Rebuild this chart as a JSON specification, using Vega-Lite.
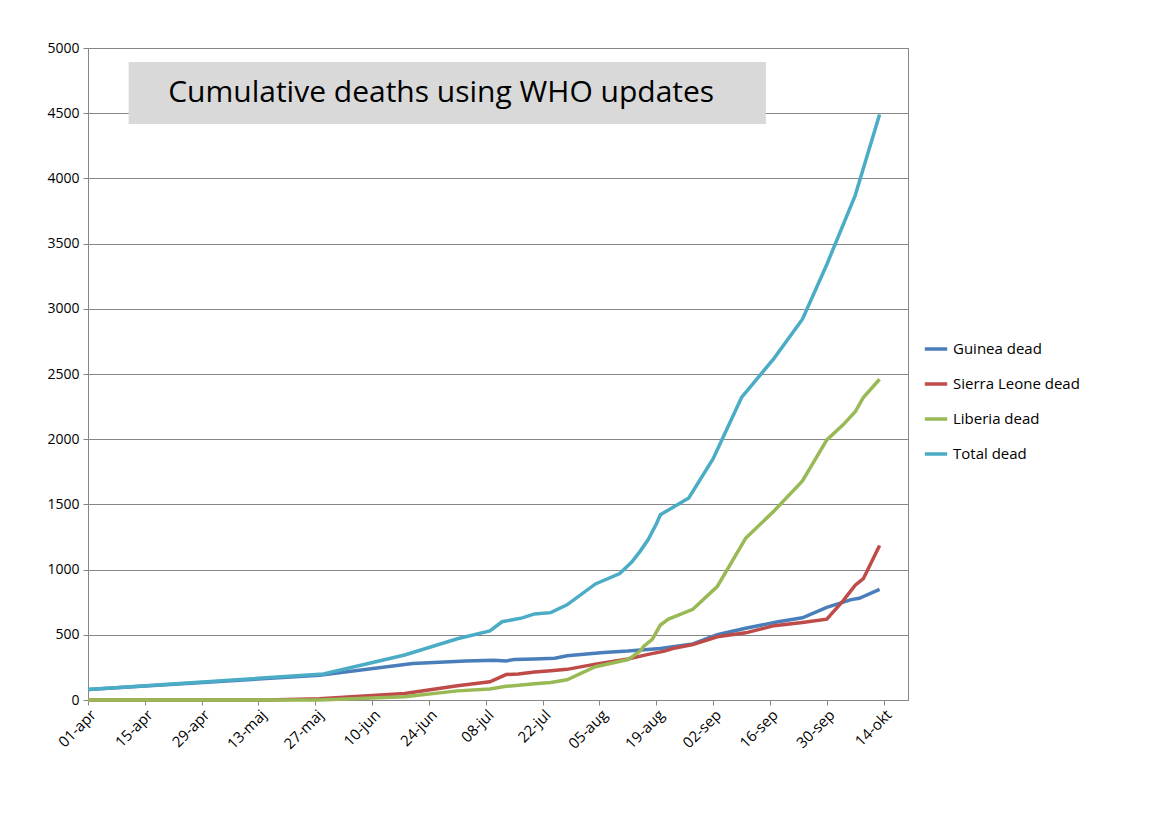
{
  "$schema": "https://vega.github.io/schema/vega-lite/v6.json",
  "width": 820,
  "height": 652,
  "autosize": "none",
  "padding": {"left": 88, "top": 48, "right": 256, "bottom": 121},
  "background": "white",
  "config": {
    "view": {"stroke": "#868686"},
    "font": "Open Sans",
    "axis": {"labelFont": "Open Sans", "labelFontSize": 14, "labelColor": "black", "domainColor": "#868686", "tickColor": "#868686", "labelOverlap": false}
  },
  "datasets": {
    "deaths": [
      {"date": "2014-04-01", "country": "Guinea dead", "deaths": 80},
      {"date": "2014-05-28", "country": "Guinea dead", "deaths": 190},
      {"date": "2014-06-20", "country": "Guinea dead", "deaths": 280},
      {"date": "2014-07-03", "country": "Guinea dead", "deaths": 300},
      {"date": "2014-07-10", "country": "Guinea dead", "deaths": 305},
      {"date": "2014-07-13", "country": "Guinea dead", "deaths": 300},
      {"date": "2014-07-15", "country": "Guinea dead", "deaths": 310},
      {"date": "2014-07-20", "country": "Guinea dead", "deaths": 315},
      {"date": "2014-07-25", "country": "Guinea dead", "deaths": 320},
      {"date": "2014-07-28", "country": "Guinea dead", "deaths": 340},
      {"date": "2014-08-06", "country": "Guinea dead", "deaths": 365},
      {"date": "2014-08-12", "country": "Guinea dead", "deaths": 375},
      {"date": "2014-08-20", "country": "Guinea dead", "deaths": 395},
      {"date": "2014-08-28", "country": "Guinea dead", "deaths": 430},
      {"date": "2014-09-03", "country": "Guinea dead", "deaths": 500},
      {"date": "2014-09-10", "country": "Guinea dead", "deaths": 550},
      {"date": "2014-09-18", "country": "Guinea dead", "deaths": 600},
      {"date": "2014-09-24", "country": "Guinea dead", "deaths": 630},
      {"date": "2014-09-30", "country": "Guinea dead", "deaths": 710},
      {"date": "2014-10-06", "country": "Guinea dead", "deaths": 770},
      {"date": "2014-10-08", "country": "Guinea dead", "deaths": 780},
      {"date": "2014-10-13", "country": "Guinea dead", "deaths": 848},
      {"date": "2014-04-01", "country": "Sierra Leone dead", "deaths": 0},
      {"date": "2014-05-15", "country": "Sierra Leone dead", "deaths": 0},
      {"date": "2014-05-28", "country": "Sierra Leone dead", "deaths": 10},
      {"date": "2014-06-18", "country": "Sierra Leone dead", "deaths": 50},
      {"date": "2014-07-01", "country": "Sierra Leone dead", "deaths": 110},
      {"date": "2014-07-09", "country": "Sierra Leone dead", "deaths": 140},
      {"date": "2014-07-13", "country": "Sierra Leone dead", "deaths": 195},
      {"date": "2014-07-16", "country": "Sierra Leone dead", "deaths": 200},
      {"date": "2014-07-20", "country": "Sierra Leone dead", "deaths": 215},
      {"date": "2014-07-24", "country": "Sierra Leone dead", "deaths": 225},
      {"date": "2014-07-28", "country": "Sierra Leone dead", "deaths": 235},
      {"date": "2014-08-04", "country": "Sierra Leone dead", "deaths": 275},
      {"date": "2014-08-12", "country": "Sierra Leone dead", "deaths": 315},
      {"date": "2014-08-17", "country": "Sierra Leone dead", "deaths": 350},
      {"date": "2014-08-21", "country": "Sierra Leone dead", "deaths": 375},
      {"date": "2014-08-23", "country": "Sierra Leone dead", "deaths": 395},
      {"date": "2014-08-28", "country": "Sierra Leone dead", "deaths": 425},
      {"date": "2014-09-03", "country": "Sierra Leone dead", "deaths": 485},
      {"date": "2014-09-10", "country": "Sierra Leone dead", "deaths": 515},
      {"date": "2014-09-17", "country": "Sierra Leone dead", "deaths": 570},
      {"date": "2014-09-24", "country": "Sierra Leone dead", "deaths": 595},
      {"date": "2014-09-30", "country": "Sierra Leone dead", "deaths": 620},
      {"date": "2014-10-04", "country": "Sierra Leone dead", "deaths": 760},
      {"date": "2014-10-07", "country": "Sierra Leone dead", "deaths": 880},
      {"date": "2014-10-09", "country": "Sierra Leone dead", "deaths": 930},
      {"date": "2014-10-13", "country": "Sierra Leone dead", "deaths": 1185},
      {"date": "2014-04-01", "country": "Liberia dead", "deaths": 0},
      {"date": "2014-05-28", "country": "Liberia dead", "deaths": 0},
      {"date": "2014-06-18", "country": "Liberia dead", "deaths": 25},
      {"date": "2014-07-01", "country": "Liberia dead", "deaths": 70},
      {"date": "2014-07-09", "country": "Liberia dead", "deaths": 85},
      {"date": "2014-07-13", "country": "Liberia dead", "deaths": 105},
      {"date": "2014-07-20", "country": "Liberia dead", "deaths": 125},
      {"date": "2014-07-24", "country": "Liberia dead", "deaths": 135},
      {"date": "2014-07-28", "country": "Liberia dead", "deaths": 155},
      {"date": "2014-08-04", "country": "Liberia dead", "deaths": 255},
      {"date": "2014-08-12", "country": "Liberia dead", "deaths": 310},
      {"date": "2014-08-13", "country": "Liberia dead", "deaths": 330},
      {"date": "2014-08-15", "country": "Liberia dead", "deaths": 375},
      {"date": "2014-08-16", "country": "Liberia dead", "deaths": 415},
      {"date": "2014-08-18", "country": "Liberia dead", "deaths": 465},
      {"date": "2014-08-20", "country": "Liberia dead", "deaths": 575},
      {"date": "2014-08-22", "country": "Liberia dead", "deaths": 620},
      {"date": "2014-08-28", "country": "Liberia dead", "deaths": 695},
      {"date": "2014-09-03", "country": "Liberia dead", "deaths": 870},
      {"date": "2014-09-10", "country": "Liberia dead", "deaths": 1240},
      {"date": "2014-09-17", "country": "Liberia dead", "deaths": 1450},
      {"date": "2014-09-24", "country": "Liberia dead", "deaths": 1680},
      {"date": "2014-09-30", "country": "Liberia dead", "deaths": 1995},
      {"date": "2014-10-04", "country": "Liberia dead", "deaths": 2110},
      {"date": "2014-10-07", "country": "Liberia dead", "deaths": 2210},
      {"date": "2014-10-09", "country": "Liberia dead", "deaths": 2320},
      {"date": "2014-10-13", "country": "Liberia dead", "deaths": 2460},
      {"date": "2014-04-01", "country": "Total dead", "deaths": 80},
      {"date": "2014-05-29", "country": "Total dead", "deaths": 200},
      {"date": "2014-06-18", "country": "Total dead", "deaths": 345},
      {"date": "2014-07-01", "country": "Total dead", "deaths": 470},
      {"date": "2014-07-09", "country": "Total dead", "deaths": 530},
      {"date": "2014-07-12", "country": "Total dead", "deaths": 600},
      {"date": "2014-07-17", "country": "Total dead", "deaths": 630},
      {"date": "2014-07-20", "country": "Total dead", "deaths": 660},
      {"date": "2014-07-24", "country": "Total dead", "deaths": 670},
      {"date": "2014-07-28", "country": "Total dead", "deaths": 730},
      {"date": "2014-08-04", "country": "Total dead", "deaths": 890},
      {"date": "2014-08-10", "country": "Total dead", "deaths": 970},
      {"date": "2014-08-13", "country": "Total dead", "deaths": 1060},
      {"date": "2014-08-15", "country": "Total dead", "deaths": 1140},
      {"date": "2014-08-17", "country": "Total dead", "deaths": 1230},
      {"date": "2014-08-19", "country": "Total dead", "deaths": 1350},
      {"date": "2014-08-20", "country": "Total dead", "deaths": 1420},
      {"date": "2014-08-27", "country": "Total dead", "deaths": 1550},
      {"date": "2014-09-02", "country": "Total dead", "deaths": 1850},
      {"date": "2014-09-09", "country": "Total dead", "deaths": 2320},
      {"date": "2014-09-17", "country": "Total dead", "deaths": 2620},
      {"date": "2014-09-24", "country": "Total dead", "deaths": 2920},
      {"date": "2014-09-30", "country": "Total dead", "deaths": 3340},
      {"date": "2014-10-07", "country": "Total dead", "deaths": 3870},
      {"date": "2014-10-13", "country": "Total dead", "deaths": 4490}
    ]
  },
  "layer": [
    {
      "data": {"name": "deaths"},
      "mark": {"type": "line", "strokeWidth": 3.5},
      "encoding": {
        "x": {
          "field": "date",
          "type": "temporal",
          "scale": {"domain": [{"year": 2014, "month": 4, "date": 1}, {"year": 2014, "month": 10, "date": 20}]},
          "axis": {
            "title": null,
            "grid": false,
            "labelAngle": -45,
            "labelAlign": "right",
            "labelBaseline": "top",
            "labelFontSize": 15,
            "tickSize": 5,
            "values": [
              {"year": 2014, "month": 4, "date": 1},
              {"year": 2014, "month": 4, "date": 15},
              {"year": 2014, "month": 4, "date": 29},
              {"year": 2014, "month": 5, "date": 13},
              {"year": 2014, "month": 5, "date": 27},
              {"year": 2014, "month": 6, "date": 10},
              {"year": 2014, "month": 6, "date": 24},
              {"year": 2014, "month": 7, "date": 8},
              {"year": 2014, "month": 7, "date": 22},
              {"year": 2014, "month": 8, "date": 5},
              {"year": 2014, "month": 8, "date": 19},
              {"year": 2014, "month": 9, "date": 2},
              {"year": 2014, "month": 9, "date": 16},
              {"year": 2014, "month": 9, "date": 30},
              {"year": 2014, "month": 10, "date": 14}
            ],
            "labelExpr": "replace(replace(lower(timeFormat(datum.value, '%d-%b')), 'may', 'maj'), 'oct', 'okt')"
          }
        },
        "y": {
          "field": "deaths",
          "type": "quantitative",
          "scale": {"domain": [0, 5000]},
          "axis": {"title": null, "format": "d", "values": [0,500,1000,1500,2000,2500,3000,3500,4000,4500,5000], "gridColor": "#868686", "tickSize": 5, "labelPadding": 4}
        },
        "color": {
          "field": "country",
          "type": "nominal",
          "sort": ["Guinea dead", "Sierra Leone dead", "Liberia dead", "Total dead"],
          "scale": {
            "domain": ["Guinea dead", "Sierra Leone dead", "Liberia dead", "Total dead"],
            "range": ["#4A7EBB", "#BE4B48", "#98B954", "#4BACC6"]
          },
          "legend": {
            "title": null,
            "orient": "none",
            "legendX": 835,
            "legendY": 288,
            "symbolType": "stroke",
            "symbolStrokeWidth": 3.5,
            "symbolSize": 500,
            "labelFontSize": 15,
            "labelFont": "Open Sans",
            "labelColor": "black",
            "rowPadding": 14
          }
        }
      }
    },
    {
      "data": {"values": [{"x1": "2014-04-11", "x2": "2014-09-15", "y1": 4417, "y2": 4893}]},
      "mark": {"type": "rect", "color": "#D9D9D9"},
      "encoding": {
        "x": {"field": "x1", "type": "temporal"},
        "x2": {"field": "x2"},
        "y": {"field": "y1", "type": "quantitative"},
        "y2": {"field": "y2"}
      }
    },
    {
      "data": {"values": [{"x": "2014-06-27", "y": 4655, "label": "Cumulative deaths using WHO updates"}]},
      "mark": {"type": "text", "fontSize": 30, "font": "Open Sans", "color": "black"},
      "encoding": {
        "x": {"field": "x", "type": "temporal"},
        "y": {"field": "y", "type": "quantitative"},
        "text": {"field": "label"}
      }
    }
  ]
}
